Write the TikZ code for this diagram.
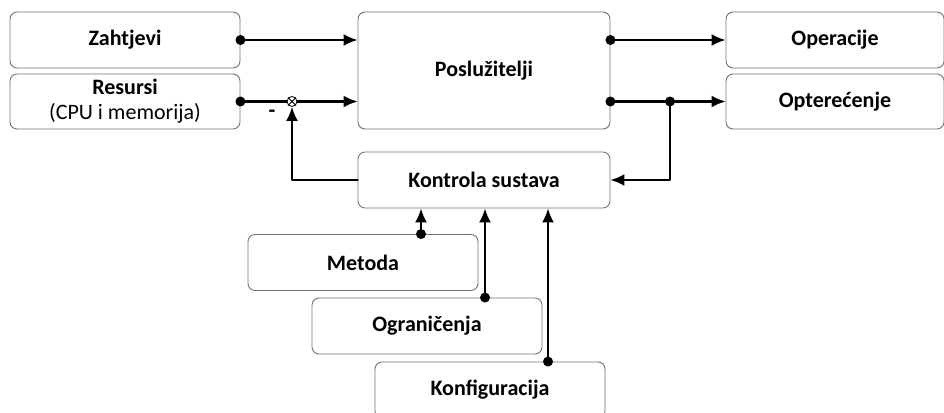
\documentclass[tikz,border=0pt]{standalone}
\usepackage{fontspec}
\setmainfont{Carlito}
\usetikzlibrary{arrows.meta}
\tikzset{
  block/.style={draw=black!55, line width=0.9pt, rounded corners=7pt, fill=white, font=\fontsize{22}{26}\selectfont\bfseries, align=center, inner sep=0pt},
  flow/.style={line width=2.2pt, -{Latex[length=14pt, width=12pt]}},
  tap/.style={circle, fill=black, inner sep=0pt, minimum size=10pt}
}
\begin{document}
\begin{tikzpicture}[x=1pt, y=-1pt, line cap=round, line join=round]
  \useasboundingbox (0,0) rectangle (944,412);
  \clip (0,0) rectangle (944,412);
  % Inputs
  \node [block, minimum width=230, minimum height=56] (zahtjevi) at (125, 40) {Zahtjevi};
  \node [block, minimum width=230, minimum height=55] (resursi) at (125, 101.5) {Resursi\\[-1pt]{\mdseries (CPU i memorija)}};
  % Servers
  \node [block, minimum width=252, minimum height=117] (posluzitelji) at (484, 70.5) {Poslužitelji};
  % Outputs
  \node [block, minimum width=218, minimum height=56] (operacije) at (835, 40) {Operacije};
  \node [block, minimum width=218, minimum height=55] (optere) at (835, 101.5) {Opterećenje};
  % Control
  \node [block, minimum width=252, minimum height=56] (kontrola) at (484, 180) {Kontrola sustava};
  % Control parameters
  \foreach \name/\txt/\x/\y in {metoda/Metoda/363/262.5, ogranicenja/Ograničenja/427/326, konfiguracija/Konfiguracija/490/390}
    \node [block, minimum width=230, minimum height=56] (\name) at (\x, \y) {\txt};
  % Summing point
  \node [circle, draw=black, line width=0.8pt, inner sep=0pt, minimum size=10pt] (sum) at (292, 101.5) {};
  \draw [line width=0.8pt] (sum.north east) -- (sum.south west) (sum.north west) -- (sum.south east);
  \node [font=\fontsize{22}{26}\selectfont\bfseries] (minus) at (272, 114) {-};
  % Input arrows
  \draw [flow] (zahtjevi.east) -- (zahtjevi.east -| posluzitelji.west);
  \draw [line width=2.2pt] (resursi.east) -- (sum.west);
  \draw [flow] (sum.east) -- (sum.east -| posluzitelji.west);
  \node [tap] at (zahtjevi.east) {};
  \node [tap] at (resursi.east) {};
  % Output arrows
  \draw [flow] (posluzitelji.east |- operacije.west) -- (operacije.west);
  \draw [flow] (posluzitelji.east |- optere.west) -- (optere.west);
  \node [tap] at (posluzitelji.east |- operacije.west) {};
  \node [tap] at (posluzitelji.east |- optere.west) {};
  \coordinate (split) at (670, 101.5);
  \node [tap] at (split) {};
  % Feedback
  \draw [flow] (split) |- (kontrola.east);
  \draw [flow] (kontrola.west) -| (sum.south);
  % Parameter arrows
  \foreach \name/\x in {metoda/421, ogranicenja/485, konfiguracija/548} {
    \coordinate (\name-tap) at (\x, 0 |- \name.north);
    \draw [flow] (\name-tap) -- (\name-tap |- kontrola.south);
    \node [tap] at (\name-tap) {};
  }
\end{tikzpicture}
\end{document}
